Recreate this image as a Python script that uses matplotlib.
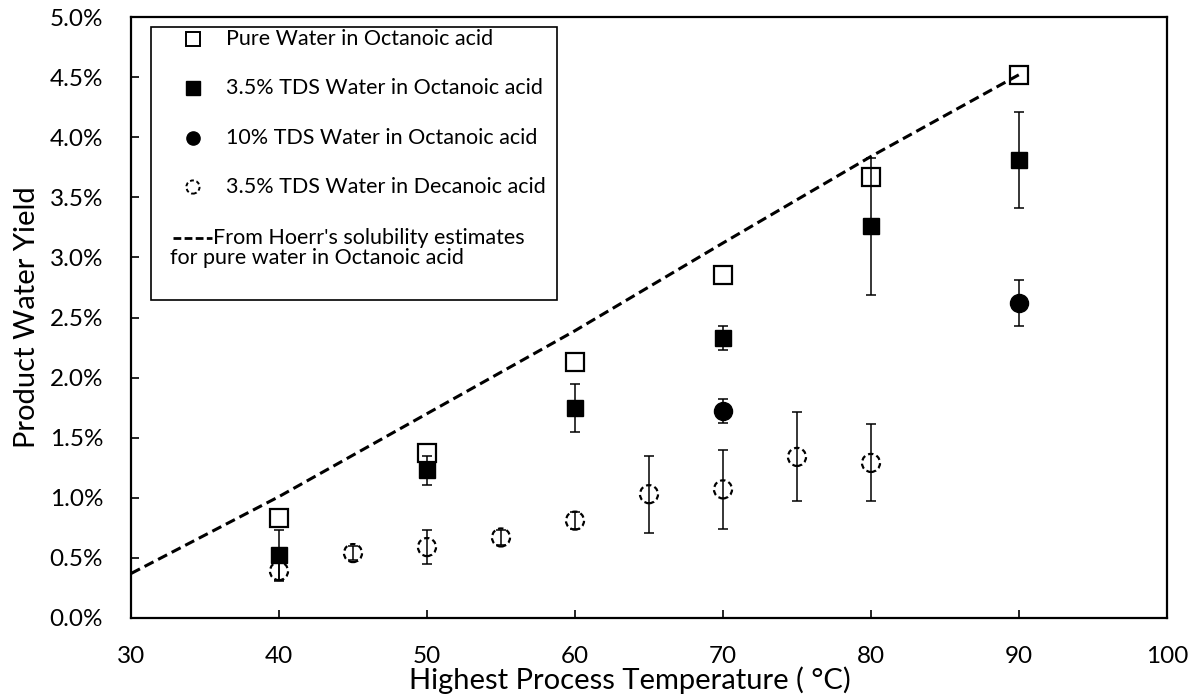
import matplotlib
matplotlib.use('Agg')
import matplotlib.pyplot as plt
from matplotlib.lines import Line2D
from matplotlib.patches import Rectangle
from matplotlib.ticker import PercentFormatter, MultipleLocator

plt.rcParams['font.family'] = ['Lato', 'DejaVu Sans']

# product water yield (%) vs highest process temperature (deg C)
pure_T = [40, 50, 60, 70, 80, 90]
pure_yield = [0.83, 1.37, 2.13, 2.85, 3.67, 4.52]

tds35_T = [40, 50, 60, 70, 80, 90]
tds35_yield = [0.52, 1.23, 1.75, 2.33, 3.26, 3.81]
tds35_err = [0.21, 0.12, 0.20, 0.10, 0.57, 0.40]

tds10_T = [70, 90]
tds10_yield = [1.72, 2.62]
tds10_err = [0.10, 0.19]

dec_T = [40, 45, 50, 55, 60, 65, 70, 75, 80]
dec_yield = [0.39, 0.54, 0.59, 0.67, 0.81, 1.03, 1.07, 1.34, 1.29]
dec_err = [0.07, 0.06, 0.14, 0.06, 0.07, 0.32, 0.33, 0.37, 0.32]

# Hoerr's solubility estimates for pure water in octanoic acid
hoerr_T = [30, 40, 50, 60, 70, 80, 90]
hoerr_yield = [0.37, 1.01, 1.70, 2.39, 3.12, 3.84, 4.52]

labels = ["Pure Water in Octanoic acid",
          "3.5% TDS Water in Octanoic acid",
          "10% TDS Water in Octanoic acid",
          "3.5% TDS Water in Decanoic acid",
          "From Hoerr's solubility estimates",
          "for pure water in Octanoic acid"]

fig = plt.figure(figsize=(11.94, 7), dpi=100)
ax = fig.add_axes([131 / 1194, 82 / 700, 1036 / 1194, 601 / 700])

ax.plot(hoerr_T, hoerr_yield, color='k', lw=2.2, dashes=(3.3, 1.7), zorder=2)

ebar = dict(ecolor='k', elinewidth=1.1, capsize=3.6, capthick=1.1)
ax.errorbar(dec_T, dec_yield, yerr=dec_err, fmt='none', zorder=3, **ebar)
ax.scatter(dec_T, dec_yield, s=13 ** 2, facecolors='none', edgecolors='k',
           linewidths=1.6, linestyles=(0, (2.4, 1.5)), zorder=4)
ax.errorbar(tds35_T, tds35_yield, yerr=tds35_err, fmt='s', ms=11.5,
            mfc='k', mec='k', zorder=3, **ebar)
ax.errorbar(tds10_T, tds10_yield, yerr=tds10_err, fmt='o', ms=13,
            mfc='k', mec='k', zorder=3, **ebar)
ax.plot(pure_T, pure_yield, 's', ms=13, mfc='none', mec='k', mew=1.6, zorder=5)

ax.set_xlim(30, 100)
ax.set_ylim(0, 5)
ax.xaxis.set_major_locator(MultipleLocator(10))
ax.yaxis.set_major_locator(MultipleLocator(0.5))
ax.yaxis.set_major_formatter(PercentFormatter(xmax=100, decimals=1))
ax.tick_params(direction='in', length=6, width=1.2, labelsize=17.5, pad=20)
for sp in ax.spines.values():
    sp.set_linewidth(1.6)

ax.set_xlabel("Highest Process Temperature ( \u00b0C)", fontsize=21)
ax.xaxis.set_label_coords(0.4817, -0.08)
ax.set_ylabel("Product Water Yield", fontsize=21)
ax.yaxis.set_label_coords(-0.088, 0.5)

# legend box, laid out in axes fractions
tr = ax.transAxes
fs = 15.5
ax.add_patch(Rectangle((0.0193, 0.5291), 0.3920, 0.4543, transform=tr,
                       fill=False, ec='k', lw=1.2, zorder=6))
rows = [0.9634, 0.8819, 0.7987, 0.7171, 0.6323]
mx, tx = 0.0598, 0.0917
handles = [dict(marker='s', mfc='none', mew=1.4),
           dict(marker='s', mfc='k', mew=1.0),
           dict(marker='o', mfc='k', mew=1.0)]
for y, h, lab in zip(rows[:3], handles, labels[:3]):
    ax.add_line(Line2D([mx], [y], transform=tr, ms=9.5, mec='k', ls='none', **h))
    ax.text(tx, y, lab, transform=tr, fontsize=fs, va='center')
ax.scatter([mx], [rows[3]], transform=tr, s=9.5 ** 2, facecolors='none',
           edgecolors='k', linewidths=1.4, linestyles=(0, (2, 1.4)), zorder=7)
ax.text(tx, rows[3], labels[3], transform=tr, fontsize=fs, va='center')
ax.add_line(Line2D([0.0405, 0.0782], [rows[4], rows[4]], transform=tr,
                   color='k', lw=2.0, dashes=(2.8, 1.2)))
ax.text(0.0792, rows[4], labels[4], transform=tr, fontsize=fs, va='center')
ax.text(0.0376, 0.5990, labels[5], transform=tr, fontsize=fs, va='center')

fig.savefig('out.png', dpi=100)
